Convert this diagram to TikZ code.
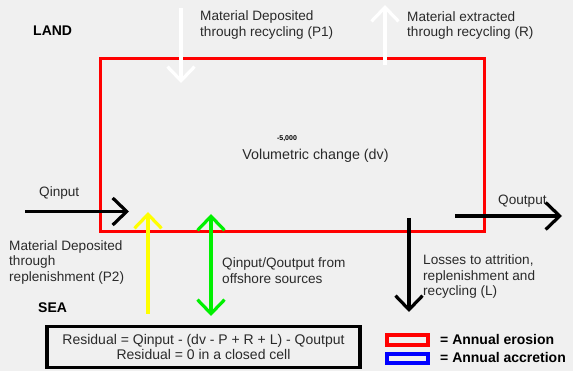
\documentclass[tikz,border=0pt]{standalone}
\usepackage{fontspec}
\setmainfont{Liberation Sans}
\usetikzlibrary{arrows.meta}
\definecolor{bg}{HTML}{F0F0F0}
\definecolor{txt}{HTML}{2A2A2A}
\definecolor{grn}{HTML}{00F000}
\definecolor{yel}{HTML}{FFFF00}
\begin{document}
\begin{tikzpicture}[x=1pt,y=-1pt,
  lbl/.style={inner sep=0pt, text=txt, font=\fontsize{13.6}{15.5}\selectfont, align=left, anchor=west},
  bold/.style={inner sep=0pt, text=black, font=\fontsize{14}{15.5}\selectfont\bfseries, anchor=west},
  flow/.style={line width=3.2pt, -{Straight Barb[length=14pt,width=27pt]}},
  flowboth/.style={line width=3.2pt, {Straight Barb[length=14pt,width=27pt]}-{Straight Barb[length=14pt,width=27pt]}}]
\useasboundingbox[fill=bg] (0,0) rectangle (573,371);

% cell
\node[draw=red, line width=3.5pt, minimum width=384pt, minimum height=173pt, inner sep=0pt] (cell) at (292.5,145) {};
\node[inner sep=0pt, font=\fontsize{7}{7}\selectfont\bfseries, text=black] (num) at (287,139) {-5,000};
\node[lbl, anchor=center, font=\fontsize{14.3}{15.5}\selectfont] (vol) at (315.5,156) {Volumetric change (dv)};

% labels
\node[bold] (land) at (33,31) {LAND};
\node[bold] (sea) at (38,308) {SEA};
\node[lbl] (p1) at (200,25) {Material Deposited\\through recycling (P1)};
\node[lbl] (rr) at (407,25.5) {Material extracted\\through recycling (R)};
\node[lbl] (qin) at (39,193) {Qinput};
\node[lbl] (qout) at (498,201) {Qoutput};
\node[lbl] (p2) at (9,262) {Material Deposited\\through\\replenishment (P2)};
\node[lbl] (off) at (222,270.5) {Qinput/Qoutput from\\offshore sources};
\node[lbl] (loss) at (423,276.5) {Losses to attrition,\\replenishment and\\recycling (L)};

% coordinates
\coordinate (p1s) at (181,8);
\coordinate (p1e) at (181,83);
\coordinate (rs) at (385,65);
\coordinate (re) at (385,5);
\coordinate (qis) at (25,211.5);
\coordinate (qie) at (129,211.5);
\coordinate (ys) at (148,314);
\coordinate (ye) at (148,212);
\coordinate (gs) at (211,316);
\coordinate (ge) at (211,214);
\coordinate (qos) at (455,216);
\coordinate (qoe) at (562,216);
\coordinate (ls) at (409,218);
\coordinate (le) at (409,312);

% arrows
\draw[flow, white] (p1s) -- (p1e);
\draw[flow, white] (rs) -- (re);
\draw[flow, black] (qis) -- (qie);
\draw[flow, yel] (ys) -- (ye);
\draw[flowboth, grn] (gs) -- (ge);
\draw[flow, black] (qos) -- (qoe);
\draw[flow, black] (ls) -- (le);

% residual box
\node[draw=black, line width=3.5pt, minimum width=313pt, minimum height=40.5pt, inner sep=0pt, align=center, text=txt, font=\fontsize{14}{15}\selectfont] (resid) at (203.5,347) {Residual = Qinput - (dv - P + R + L) - Qoutput\\Residual = 0 in a closed cell};

% legend
\node[draw=red, line width=4pt, minimum width=41pt, minimum height=10pt, inner sep=0pt] (lred) at (407.5,340) {};
\node[draw=blue, line width=4pt, minimum width=41pt, minimum height=9pt, inner sep=0pt] (lblue) at (407.5,358.5) {};
\node[bold] (ero) at (440,339) {= Annual erosion};
\node[bold] (acc) at (440,357) {= Annual accretion};
\end{tikzpicture}
\end{document}
